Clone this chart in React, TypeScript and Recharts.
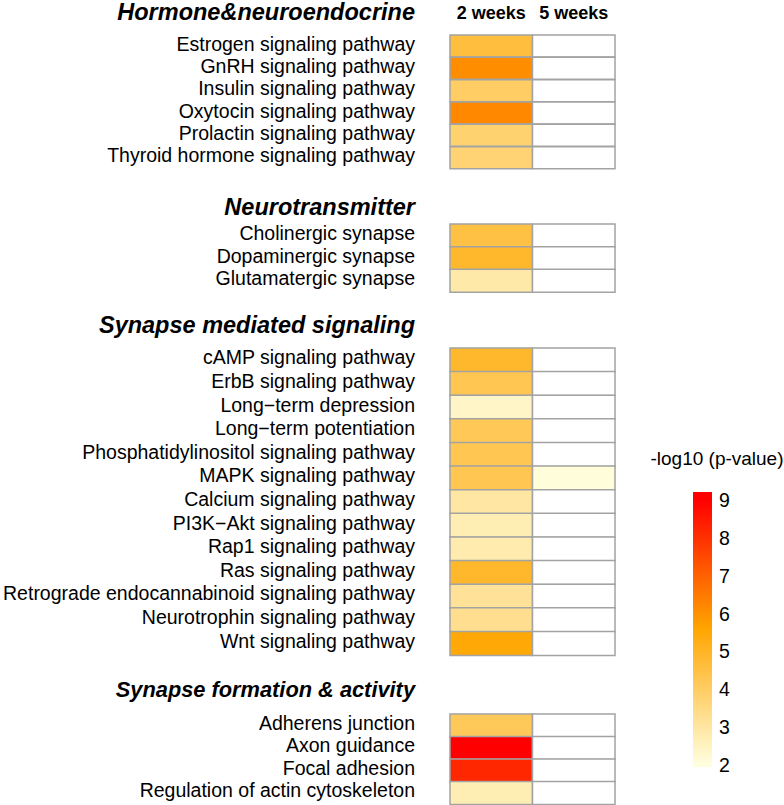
import { BarChart, Bar, Cell, XAxis, YAxis } from 'recharts'

const FONT = '"Liberation Sans", Arial, Helvetica, sans-serif'

// column headers + group titles
const weekLabels = ['2 weeks', '5 weeks']
const groupTitles = [
  'Hormone&neuroendocrine',
  'Neurotransmitter',
  'Synapse mediated signaling',
  'Synapse formation & activity',
]

// -log10(p) per pathway, null = not significant (white)
const hormoneRows = [
  'Estrogen signaling pathway',
  'GnRH signaling pathway',
  'Insulin signaling pathway',
  'Oxytocin signaling pathway',
  'Prolactin signaling pathway',
  'Thyroid hormone signaling pathway',
]
const hormone2w = [4.6, 6.1, 4.0, 6.2, 3.8, 3.75]
const hormone5w = [null, null, null, null, null, null]

const neuroRows = ['Cholinergic synapse', 'Dopaminergic synapse', 'Glutamatergic synapse']
const neuro2w = [4.5, 4.9, 2.9]
const neuro5w = [null, null, null]

const synapseRows = [
  'cAMP signaling pathway',
  'ErbB signaling pathway',
  'Long\u2212term depression',
  'Long\u2212term potentiation',
  'Phosphatidylinositol signaling pathway',
  'MAPK signaling pathway',
  'Calcium signaling pathway',
  'PI3K\u2212Akt signaling pathway',
  'Rap1 signaling pathway',
  'Ras signaling pathway',
  'Retrograde endocannabinoid signaling pathway',
  'Neurotrophin signaling pathway',
  'Wnt signaling pathway',
]
const synapse2w = [4.9, 4.3, 2.4, 4.2, 4.3, 4.3, 3.0, 2.7, 2.8, 4.9, 3.15, 3.3, 5.5]
const synapse5w = [null, null, null, null, null, 2.1, null, null, null, null, null, null, null]

const formationRows = [
  'Adherens junction',
  'Axon guidance',
  'Focal adhesion',
  'Regulation of actin cytoskeleton',
]
const formation2w = [4.15, 9.0, 8.2, 2.7]
const formation5w = [null, null, null, null]

// colour scale
const colorStops = [2, 5.6, 9]
const colorRamp = ['#FFFFE0', '#FFA500', '#FF0000']
const legendTicks = [2, 3, 4, 5, 6, 7, 8, 9]
const legendDomain: [number, number] = [1.95, 9.21]

const hex = (c: string) => [1, 3, 5].map((i) => parseInt(c.slice(i, i + 2), 16))

function heatColor(v: number | null) {
  if (v == null) return '#FFFFFF'
  const x = Math.max(colorStops[0], Math.min(colorStops[colorStops.length - 1], v))
  let k = 0
  while (k < colorStops.length - 2 && x > colorStops[k + 1]) k++
  const t = (x - colorStops[k]) / (colorStops[k + 1] - colorStops[k])
  const a = hex(colorRamp[k])
  const b = hex(colorRamp[k + 1])
  const rgb = a.map((c, i) => Math.round(c + (b[i] - c) * t))
  return `rgb(${rgb.join(',')})`
}

const BORDER = '#A3A3A3'

function RowTick(props: any) {
  const { x, y, payload } = props
  return (
    <text x={x} y={y} dy={4.5} textAnchor="end" fontSize={19.5} fontFamily={FONT} fill="#000">
      {payload.value}
    </text>
  )
}

function HeaderTick(props: any) {
  const { x, payload } = props
  return (
    <text x={x} y={19} textAnchor="middle" fontSize={18} fontWeight="bold" fontFamily={FONT} fill="#000">
      {weekLabels[Math.floor(payload.value)]}
    </text>
  )
}

interface PanelProps {
  rows: string[]
  w2: (number | null)[]
  w5: (number | null)[]
  top: number
  bottom: number
  header?: boolean
}

function Panel({ rows, w2, w5, top, bottom, header }: PanelProps) {
  const data = rows.map((name, i) => ({ name, v2: w2[i], v5: w5[i], a: 1, b: 1 }))
  const padTop = header ? 35 : 2
  return (
    <div style={{ position: 'absolute', left: 0, top: top - padTop }}>
      <BarChart
        width={620}
        height={bottom - top + padTop + 2}
        data={data}
        layout="vertical"
        barCategoryGap={0}
        margin={{ top: header ? 0 : 2, right: 5, bottom: 2, left: 0 }}
      >
        <XAxis
          type="number"
          domain={[0, 2]}
          hide={!header}
          orientation="top"
          ticks={[0.5, 1.5]}
          height={header ? 35 : 0}
          axisLine={false}
          tickLine={false}
          tick={<HeaderTick />}
        />
        <YAxis
          type="category"
          dataKey="name"
          width={450}
          interval={0}
          axisLine={false}
          tickLine={false}
          tickSize={0}
          tickMargin={35}
          tick={<RowTick />}
        />
        <Bar dataKey="a" stackId="s" stroke={BORDER} strokeWidth={1.5} isAnimationActive={false}>
          {data.map((d, i) => (
            <Cell key={i} fill={heatColor(d.v2)} />
          ))}
        </Bar>
        <Bar dataKey="b" stackId="s" stroke={BORDER} strokeWidth={1.5} isAnimationActive={false}>
          {data.map((d, i) => (
            <Cell key={i} fill={heatColor(d.v5)} />
          ))}
        </Bar>
      </BarChart>
    </div>
  )
}

function ColorLegend() {
  const span = legendDomain[1] - legendDomain[0]
  const data = [{ name: 'scale', range: legendDomain }]
  return (
    <div style={{ position: 'absolute', left: 693, top: 482 }}>
      <BarChart
        width={91}
        height={305}
        data={data}
        barCategoryGap={0}
        margin={{ top: 10, right: 0, bottom: 20, left: 0 }}
      >
        <defs>
          <linearGradient id="pvalGrad" x1="0" y1="0" x2="0" y2="1">
            {colorStops
              .map((s, i) => ({ s, c: colorRamp[i] }))
              .reverse()
              .map(({ s, c }) => (
                <stop key={s} offset={`${((legendDomain[1] - s) / span) * 100}%`} stopColor={c} />
              ))}
          </linearGradient>
        </defs>
        <XAxis type="category" dataKey="name" hide />
        <YAxis
          type="number"
          orientation="right"
          domain={legendDomain}
          allowDataOverflow
          ticks={legendTicks}
          interval={0}
          width={72}
          axisLine={false}
          tickLine={false}
          tickMargin={1}
          tick={{ fontSize: 19.5, fill: '#000', fontFamily: FONT, textAnchor: 'start' }}
        />
        <Bar dataKey="range" fill="url(#pvalGrad)" isAnimationActive={false} />
      </BarChart>
    </div>
  )
}

export default function App() {
  const titleBaselines = [20, 215, 333, 697]
  const titleSizes = [23.5, 23.5, 23.5, 21.8]
  return (
    <div
      style={{
        position: 'absolute',
        left: 0,
        top: 0,
        width: 784,
        height: 805,
        background: '#fff',
        fontFamily: FONT,
        overflow: 'hidden',
      }}
    >
      <Panel rows={hormoneRows} w2={hormone2w} w5={hormone5w} top={35} bottom={169} header />
      <Panel rows={neuroRows} w2={neuro2w} w5={neuro5w} top={224} bottom={292} />
      <Panel rows={synapseRows} w2={synapse2w} w5={synapse5w} top={348} bottom={655} />
      <Panel rows={formationRows} w2={formation2w} w5={formation5w} top={714} bottom={804} />
      <ColorLegend />
      <svg
        width={784}
        height={805}
        style={{ position: 'absolute', left: 0, top: 0, pointerEvents: 'none' }}
      >
        {groupTitles.map((t, i) => (
          <text
            key={t}
            x={415}
            y={titleBaselines[i]}
            textAnchor="end"
            fontSize={titleSizes[i]}
            fontWeight="bold"
            fontStyle="italic"
            fontFamily={FONT}
            fill="#000"
          >
            {t}
          </text>
        ))}
        <text x={717} y={465} textAnchor="middle" fontSize={19} fontFamily={FONT} fill="#000">
          -log10 (p-value)
        </text>
      </svg>
    </div>
  )
}
